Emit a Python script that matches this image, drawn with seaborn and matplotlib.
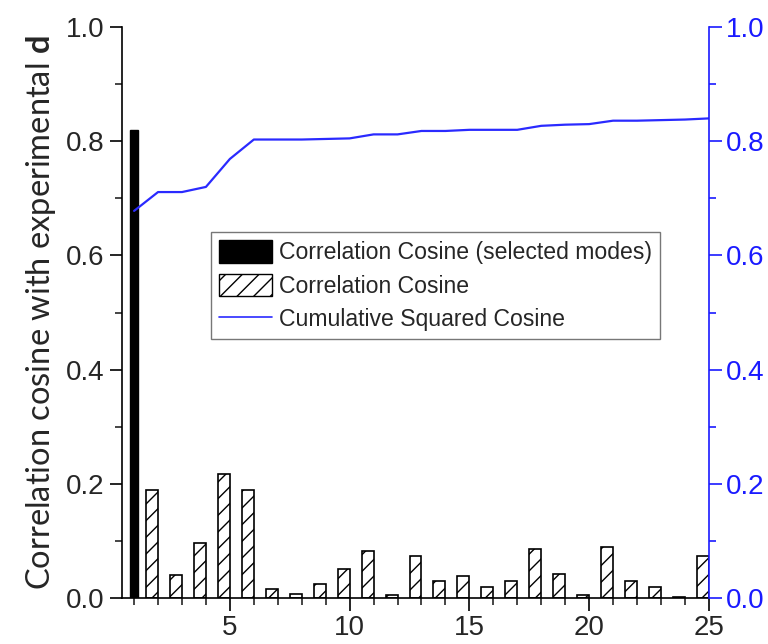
import matplotlib
matplotlib.use("Agg")
import matplotlib.pyplot as plt
import seaborn as sns
import pandas as pd
from matplotlib.patches import Patch
from matplotlib.lines import Line2D
from matplotlib.ticker import MultipleLocator, FormatStrFormatter

# mode numbers and correlation cosines
modes = list(range(1, 26))
corr_cos = [0.82, 0.19, 0.04, 0.097, 0.217, 0.19, 0.015, 0.007, 0.024, 0.051,
            0.082, 0.005, 0.073, 0.03, 0.038, 0.02, 0.03, 0.085, 0.042, 0.005,
            0.09, 0.03, 0.02, 0.002, 0.073]
selected = [1]
cum_sq = [0.678, 0.711, 0.711, 0.72, 0.769, 0.803, 0.803, 0.803, 0.804, 0.805,
          0.812, 0.812, 0.818, 0.818, 0.82, 0.82, 0.82, 0.827, 0.829, 0.83,
          0.836, 0.836, 0.837, 0.838, 0.84]

df = pd.DataFrame({"mode": modes, "cos": corr_cos, "cum": cum_sq})
df_sel = df[df["mode"].isin(selected)]
df_rest = df[~df["mode"].isin(selected)]

sns.set_style("white")
plt.rcParams["font.family"] = ["Liberation Sans", "DejaVu Sans"]
plt.rcParams["hatch.linewidth"] = 1.0
plt.rcParams["mathtext.fontset"] = "custom"
plt.rcParams["mathtext.bf"] = "Lato:bold"

fig = plt.figure(figsize=(7.68, 6.44), dpi=100)
ax = fig.add_axes([0.159, 0.0714, 0.764, 0.8866])

# hatched bars (sit just left of their mode tick, as in the original)
sns.barplot(data=df_rest, x="mode", y="cos", native_scale=True, width=0.5,
            color="white", edgecolor="black", linewidth=1.2, ax=ax)
for p in ax.patches:
    p.set_hatch("//")
    p.set_x(p.get_x() - 0.25)
# selected mode bar
sns.barplot(data=df_sel, x="mode", y="cos", native_scale=True, width=0.35,
            color="black", edgecolor="black", linewidth=1.0, ax=ax)

ax.set_xlim(0.5, 25)
ax.set_ylim(0, 1.0)
ax.xaxis.set_major_locator(MultipleLocator(5))
ax.xaxis.set_minor_locator(MultipleLocator(1))
ax.yaxis.set_major_locator(MultipleLocator(0.2))
ax.yaxis.set_minor_locator(MultipleLocator(0.1))
ax.yaxis.set_major_formatter(FormatStrFormatter("%.1f"))
ax.tick_params(axis="both", which="major", direction="out", length=9, width=1.2,
               labelsize=20, color="black", bottom=True, left=True)
ax.tick_params(axis="both", which="minor", direction="out", length=5, width=1.2,
               bottom=True, left=True)
ax.set_xlabel("")
ax.set_ylabel(r"Correlation cosine with experimental $\mathbf{d}$",
              fontsize=23.5, family="Lato", labelpad=6)
ax.spines["top"].set_visible(False)
ax.spines["right"].set_visible(False)
for s in ["left", "bottom"]:
    ax.spines[s].set_color("black")
    ax.spines[s].set_linewidth(1.2)

ax2 = ax.twinx()
sns.lineplot(data=df, x="mode", y="cum", color="#2a2aff", linewidth=1.6, ax=ax2)
ax2.set_ylim(0, 1.0)
ax2.set_xlim(0.5, 25)
ax2.set_ylabel("")
ax2.yaxis.set_major_locator(MultipleLocator(0.2))
ax2.yaxis.set_minor_locator(MultipleLocator(0.1))
ax2.yaxis.set_major_formatter(FormatStrFormatter("%.1f"))
ax2.tick_params(axis="y", which="major", direction="out", length=9, width=1.2,
                labelsize=20, colors="#1a1aff", right=True)
ax2.tick_params(axis="y", which="minor", direction="out", length=5, width=1.2,
                colors="#1a1aff", right=True)
for s in ["top", "left", "bottom"]:
    ax2.spines[s].set_visible(False)
ax2.spines["right"].set_color("#1a1aff")
ax2.spines["right"].set_linewidth(1.2)

handles = [
    Patch(facecolor="black", edgecolor="black"),
    Patch(facecolor="white", edgecolor="black", hatch="//"),
    Line2D([0], [0], color="#2a2aff", linewidth=1.2),
]
labels = ["Correlation Cosine (selected modes)", "Correlation Cosine",
          "Cumulative Squared Cosine"]
leg = ax2.legend(handles, labels, loc="upper left", bbox_to_anchor=(0.152, 0.641),
                 fontsize=16.6, frameon=True, fancybox=False, edgecolor="#555555",
                 handlelength=2.3, handleheight=1.15, handletextpad=0.3,
                 labelspacing=0.4, borderpad=0.35, borderaxespad=0)
leg.get_frame().set_linewidth(1.0)

fig.savefig("out.png", dpi=100)
